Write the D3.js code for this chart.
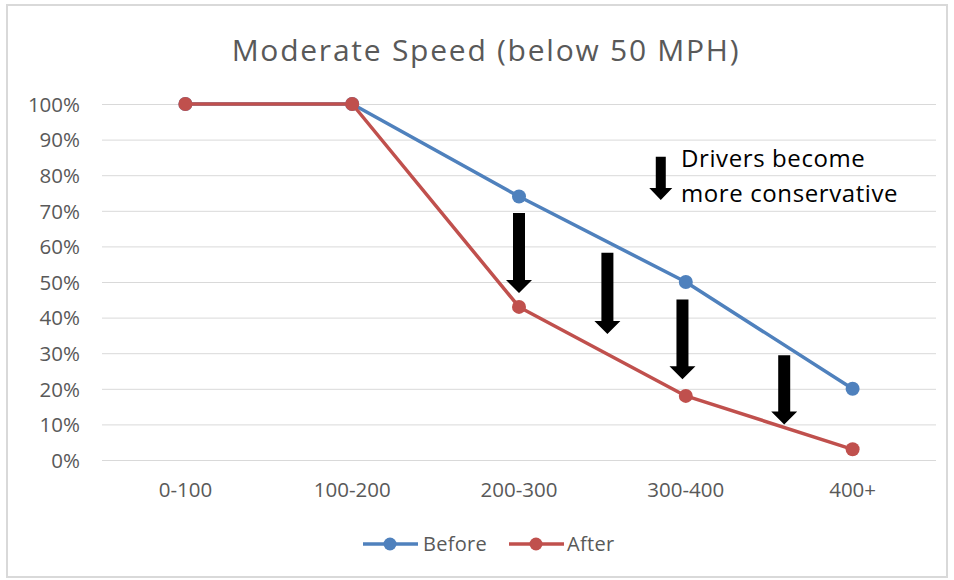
<!DOCTYPE html>
<html>
<head>
<meta charset="utf-8">
<script src="https://cdn.jsdelivr.net/npm/d3@7"></script>
<style>
  html, body { margin: 0; padding: 0; background: #fff; }
  svg { display: block; font-family: "Open Sans", Lato, "Liberation Sans", sans-serif; }
</style>
</head>
<body>
<svg id="chart" width="954" height="580"></svg>
<script>
// Distance bands and share of drivers at moderate speed
const categories = ["0-100", "100-200", "200-300", "300-400", "400+"];
const beforeValues = [100, 100, 74, 50, 20];
const afterValues = [100, 100, 43, 18, 3];
const yTicks = [0, 10, 20, 30, 40, 50, 60, 70, 80, 90, 100];
const seriesNames = ["Before", "After"];
const seriesColors = ["#4f81bd", "#c0504d"];

// Down arrows: position along the category axis (band index) and top/tip in percent
const arrows = [
  { at: 2.0, top: 69.4, tip: 46.9 },
  { at: 2.53, top: 58.2, tip: 35.4 },
  { at: 2.98, top: 45.1, tip: 22.7 },
  { at: 3.59, top: 29.4, tip: 10.0 }
];
const keyArrow = { at: 2.85, top: 85.2, tip: 73.0 };
const noteLines = ["Drivers become", "more conservative"];

const svg = d3.select("#chart");
const font = "'Open Sans', Lato, sans-serif";

// Outer frame
svg.append("rect")
  .attr("x", 7).attr("y", 5).attr("width", 940).attr("height", 572)
  .attr("fill", "#fff").attr("stroke", "#d9d9d9").attr("stroke-width", 2);

const plot = { left: 102, right: 936, top: 104, bottom: 460 };

const x = d3.scaleBand().domain(categories).range([plot.left, plot.right]);
const y = d3.scaleLinear().domain([0, 100]).range([plot.bottom, plot.top]);
const xc = d => x(d) + x.bandwidth() / 2;
// Continuous position between category centres, by band index
const xAt = i => x(categories[0]) + x.bandwidth() / 2 + i * x.step();

// Title
svg.append("text")
  .attr("x", 486).attr("y", 61)
  .attr("text-anchor", "middle")
  .attr("fill", "#595959")
  .attr("font-size", 30)
  .attr("letter-spacing", 1.75)
  .text("Moderate Speed (below 50 MPH)");

// Horizontal gridlines
svg.append("g")
  .selectAll("line").data(yTicks).join("line")
  .attr("x1", plot.left).attr("x2", plot.right)
  .attr("y1", d => y(d) + 0.5).attr("y2", d => y(d) + 0.5)
  .attr("stroke", "#d9d9d9").attr("stroke-width", 1);

// Y axis labels
const yAxis = d3.axisLeft(y).tickValues(yTicks).tickFormat(d => d + "%").tickSize(0).tickPadding(0);
const gy = svg.append("g").attr("transform", "translate(80,0)").call(yAxis);
gy.select(".domain").remove();
gy.selectAll("text")
  .attr("fill", "#595959").attr("font-size", 20.5)
  .attr("font-family", font)
  .attr("dy", "0.36em");

// X axis labels
const xAxis = d3.axisBottom(x).tickSize(0).tickPadding(0);
const gx = svg.append("g").attr("transform", "translate(0,482)").call(xAxis);
gx.select(".domain").remove();
gx.selectAll("text")
  .attr("fill", "#595959").attr("font-size", 20.5)
  .attr("font-family", font);

// Series lines and markers
const series = [beforeValues, afterValues];
const line = d3.line().x((d, i) => xc(categories[i])).y(d => y(d));
series.forEach((vals, s) => {
  const g = svg.append("g");
  g.append("path")
    .attr("d", line(vals))
    .attr("fill", "none")
    .attr("stroke", seriesColors[s])
    .attr("stroke-width", 3.5)
    .attr("stroke-linejoin", "round");
  g.selectAll("circle").data(vals).join("circle")
    .attr("cx", (d, i) => xc(categories[i]))
    .attr("cy", d => y(d))
    .attr("r", 7)
    .attr("fill", seriesColors[s]);
});

// Block arrow pointing down
function drawArrow(a, shaftW, headW, headH) {
  const cx = xAt(a.at);
  const yTop = y(a.top), yTip = y(a.tip);
  const yHead = yTip - headH;
  const pts = [
    [cx - shaftW / 2, yTop], [cx + shaftW / 2, yTop],
    [cx + shaftW / 2, yHead], [cx + headW / 2, yHead],
    [cx, yTip], [cx - headW / 2, yHead],
    [cx - shaftW / 2, yHead]
  ];
  svg.append("path")
    .attr("d", "M" + pts.map(p => p.join(",")).join("L") + "Z")
    .attr("fill", "#000");
}
arrows.forEach(a => drawArrow(a, 12, 26, 13));
drawArrow(keyArrow, 10, 23, 12);

// Annotation text
svg.append("g").selectAll("text").data(noteLines).join("text")
  .attr("x", 681).attr("y", (d, i) => 167 + i * 35)
  .attr("fill", "#000").attr("font-size", 24)
  .attr("letter-spacing", 0.6)
  .attr("font-family", font)
  .text(d => d);

// Legend
const legendItems = [
  { x: 363, textX: 423 },
  { x: 509, textX: 567 }
];
const lg = svg.append("g");
seriesNames.forEach((name, i) => {
  const it = legendItems[i];
  lg.append("line")
    .attr("x1", it.x).attr("x2", it.x + 55)
    .attr("y1", 544).attr("y2", 544)
    .attr("stroke", seriesColors[i]).attr("stroke-width", 3.5);
  lg.append("circle")
    .attr("cx", it.x + 27).attr("cy", 544).attr("r", 6.5)
    .attr("fill", seriesColors[i]);
  lg.append("text")
    .attr("x", it.textX).attr("y", 551)
    .attr("fill", "#595959").attr("font-size", 20)
    .attr("letter-spacing", 0.3)
    .text(name);
});
</script>
</body>
</html>
